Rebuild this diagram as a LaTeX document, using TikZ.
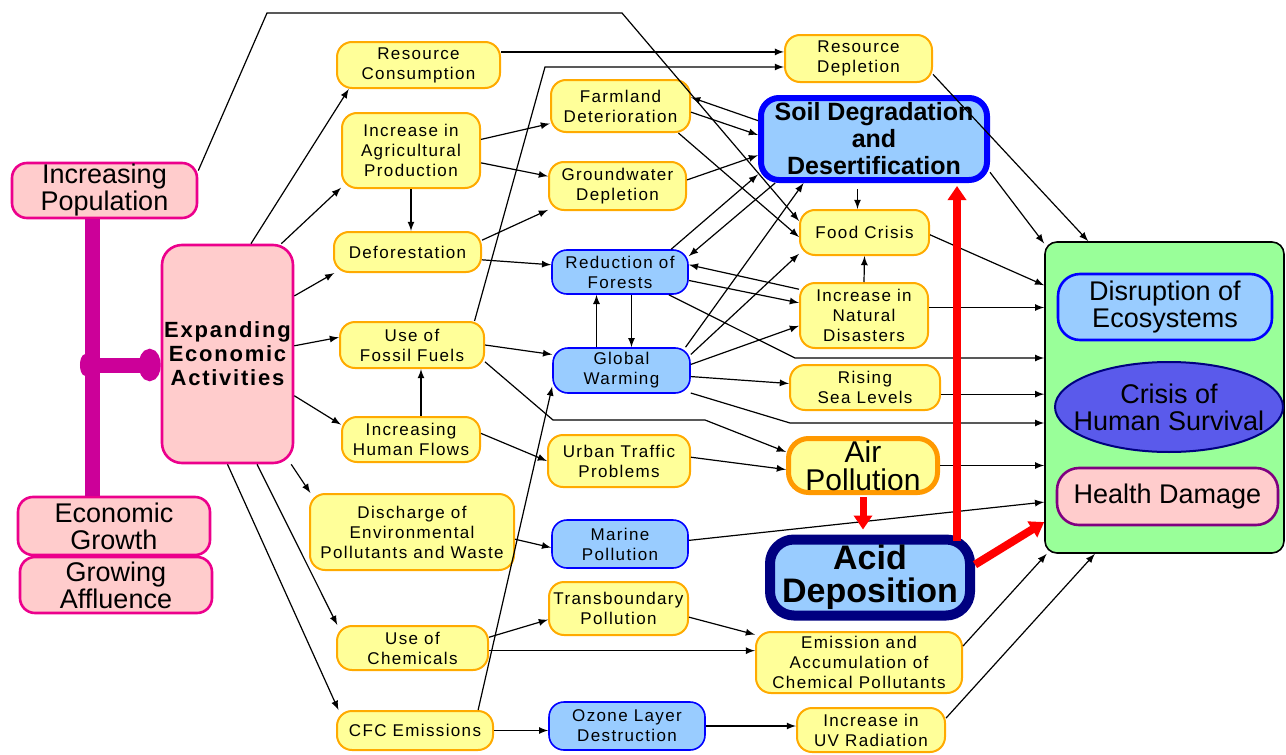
\documentclass[tikz,border=0pt]{standalone}
\usepackage{fontspec}
\setmainfont{Liberation Sans}
\newfontfamily\spaced[LetterSpace=8]{Liberation Sans}
\usepackage{tikz}
\usetikzlibrary{positioning,arrows,arrows.meta,calc,shapes.geometric}

\definecolor{paleyel}{RGB}{255,255,153}
\definecolor{edgeorange}{RGB}{255,170,0}
\definecolor{airorange}{RGB}{255,153,0}
\definecolor{paleblue}{RGB}{153,204,255}
\definecolor{palepink}{RGB}{255,204,204}
\definecolor{palegreen}{RGB}{153,255,153}
\definecolor{barmag}{RGB}{204,0,153}
\definecolor{deepnavy}{RGB}{0,0,128}
\definecolor{crisisblue}{RGB}{90,90,235}
\definecolor{healthpurple}{RGB}{128,0,128}

\newcommand{\smtxt}{\spaced\fontsize{8.5}{10}\selectfont}
\newcommand{\bgtxt}{\fontsize{13.5}{13.5}\selectfont}

\begin{document}
\begin{tikzpicture}[>=latex,x=0.5pt,y=-0.5pt,line width=0.6pt,
	box/.style={rectangle,rounded corners=7.5pt,align=center,inner sep=0pt,font=\smtxt},
	yel/.style={box,draw=edgeorange,fill=paleyel,line width=1pt},
	blu/.style={box,draw=blue,fill=paleblue,line width=0.8pt},
	pnk/.style={box,draw=magenta,fill=palepink,line width=1.3pt,font=\bgtxt},
	redarrow/.style={-{Triangle[length=7pt,width=9pt]},red,line width=4pt}]
	\useasboundingbox (0,0) rectangle (1286,755);

	% causes
	\node[pnk,minimum width=92.5pt,minimum height=27.5pt] (IncPop) at (104.5,190.5) {Increasing\\Population};
	\node[pnk,minimum width=96pt,minimum height=29pt] (EcoGrowth) at (114,526) {Economic\\Growth};
	\node[pnk,minimum width=96pt,minimum height=28pt] (Affluence) at (116,585) {Growing\\Affluence};
	\node[pnk,minimum width=65.5pt,minimum height=109pt,rounded corners=10pt,
		font=\spaced\bfseries\fontsize{11}{12}\selectfont] (Expanding) at (227.5,354) {Expanding\\Economic\\Activities};

	% activities
	\node[yel,minimum width=81.5pt,minimum height=23pt] (ResCons) at (418.5,65) {Resource\\Consumption};
	\node[yel,minimum width=69pt,minimum height=37.5pt] (IncAgri) at (411,150.5) {Increase in\\Agricultural\\Production};
	\node[yel,minimum width=73.5pt,minimum height=20pt] (Defor) at (407.5,252) {Deforestation};
	\node[yel,minimum width=72pt,minimum height=23pt] (Fossil) at (412,345) {Use of\\Fossil Fuels};
	\node[yel,minimum width=69pt,minimum height=22.5pt] (HumanFlows) at (411,439.5) {Increasing\\Human Flows};
	\node[yel,minimum width=102pt,minimum height=38pt] (Discharge) at (412,532) {Discharge of\\Environmental\\Pollutants and Waste};
	\node[yel,minimum width=75.5pt,minimum height=22pt] (Chemicals) at (412.5,648) {Use of\\Chemicals};
	\node[yel,minimum width=78pt,minimum height=19.5pt] (CFC) at (415,730.5) {CFC Emissions};

	% first effects
	\node[yel,minimum width=69.5pt,minimum height=26pt] (Farmland) at (620.5,106) {Farmland\\Deterioration};
	\node[yel,minimum width=68.5pt,minimum height=24pt] (Groundwater) at (617.5,186) {Groundwater\\Depletion};
	\node[blu,minimum width=68pt,minimum height=22pt] (Reduction) at (620,272) {Reduction of\\Forests};
	\node[blu,minimum width=68.5pt,minimum height=22.5pt] (GW) at (621.5,370.5) {Global\\Warming};
	\node[yel,minimum width=71pt,minimum height=26pt] (Urban) at (619,461) {Urban Traffic\\Problems};
	\node[blu,minimum width=68pt,minimum height=24pt] (Marine) at (620,544) {Marine\\Pollution};
	\node[yel,minimum width=69.5pt,minimum height=26.5pt] (Transb) at (618.5,608.5) {Transboundary\\Pollution};
	\node[blu,minimum width=78pt,minimum height=24pt] (Ozone) at (627,726) {Ozone Layer\\Destruction};

	% second effects
	\node[yel,minimum width=73.5pt,minimum height=23.5pt] (ResDepl) at (858.5,58.5) {Resource\\Depletion};
	\node[blu,minimum width=113pt,minimum height=41pt,line width=3pt,rounded corners=9pt,
		font=\bfseries\fontsize{12.5}{13.5}\selectfont] (Soil) at (874,139) {Soil Degradation\\and\\Desertification};
	\node[yel,minimum width=64.5pt,minimum height=22.5pt] (Food) at (864.5,232.5) {Food Crisis};
	\node[yel,minimum width=64pt,minimum height=32.5pt] (NatDis) at (864,315.5) {Increase in\\Natural\\Disasters};
	\node[yel,minimum width=75pt,minimum height=22.5pt] (Rising) at (865,387.5) {Rising\\Sea Levels};
	\node[yel,minimum width=74.5pt,minimum height=27pt,line width=2.5pt,draw=airorange,rounded corners=10pt,
		font=\fontsize{15}{14}\selectfont] (Air) at (863,465.5) {Air\\Pollution};
	\node[blu,minimum width=100pt,minimum height=38pt,line width=5pt,draw=deepnavy,rounded corners=12pt,
		font=\bfseries\fontsize{17}{16.5}\selectfont] (Acid) at (870,577.5) {Acid\\Deposition};
	\node[yel,minimum width=103pt,minimum height=30.5pt] (Emission) at (859,662.5) {Emission and\\Accumulation of\\Chemical Pollutants};
	\node[yel,minimum width=74pt,minimum height=22pt] (UV) at (871,730) {Increase in\\UV Radiation};

	% outcome
	\node[draw=black,fill=palegreen,rounded corners=6pt,minimum width=119.5pt,minimum height=155.5pt,line width=0.8pt] (Impact) at (1164.5,397.5) {};
	\node[box,draw=blue,fill=paleblue,line width=1.3pt,rounded corners=11pt,minimum width=107pt,minimum height=33pt,font=\bgtxt] (Disruption) at (1165,307) {Disruption of\\Ecosystems};
	\node[ellipse,draw=deepnavy,fill=crisisblue,line width=1pt,minimum width=114pt,minimum height=45pt,inner xsep=-8pt,inner ysep=0pt,align=center,font=\bgtxt] (Crisis) at (1169,407) {Crisis of\\Human Survival};
	\node[box,draw=healthpurple,fill=palepink,line width=1.3pt,rounded corners=11pt,minimum width=110.5pt,minimum height=28.5pt,font=\bgtxt] (Health) at (1167.5,496.5) {Health Damage};

	% population and growth
	\coordinate (trunk) at ($(IncPop.south)+(-12,0)$);
	\coordinate (fork) at (80,365);
	\draw[barmag,line width=7.5pt] (trunk) -- (trunk |- EcoGrowth.north);
	\draw[barmag,line width=7.5pt,{Circle[length=6pt,width=11pt]}-{Circle[length=11pt,width=16pt]}] (fork) -- (fork -| Expanding.west);
	\coordinate (popA) at (267,13);
	\coordinate (popB) at (622,13);
	\draw[->] (IncPop.12) -- (popA) -- (popB) -- (Food.170);

	% from Expanding
	\draw[->] (Expanding.78) -- (ResCons.199);
	\draw[->] (Expanding.64) -- (IncAgri.208);
	\draw[->] (Expanding.41) -- (Defor.196);
	\draw[->] (Expanding.7) -- (Fossil.174);
	\draw[->] (Expanding.-32) -- (HumanFlows.168);
	\draw[->] (Expanding.-60) -- (Discharge.159);
	\draw[->] (Expanding.-75) -- (Chemicals.163);
	\draw[->] (Expanding.-90) -- (CFC.165);

	% activities
	\coordinate (hfTop) at ($(HumanFlows.north)+(10,0)$);
	\coordinate (fuelBend) at (545,67);
	\coordinate (airA) at (553,420);
	\coordinate (airB) at (705,420);
	\draw[->] (IncAgri.south) -- (IncAgri.south |- Defor.north);
	\draw[->] (hfTop) -- (hfTop |- Fossil.south);
	\draw[->] (ResCons.9) -- (ResCons.9 -| ResDepl.west);
	\draw[->] (Fossil.21) -- (fuelBend) -- (fuelBend -| ResDepl.west);
	\draw[->] (CFC.18) -- (GW.193);
	\draw[->] (Fossil.-13) -- (airA) -- (airB) -- (Air.170);
	\draw[->] (Fossil.east) -- (GW.167);
	\draw[->] (IncAgri.9) -- (Farmland.194);
	\draw[->] (IncAgri.-10) -- (Groundwater.172);
	\draw[->] (Defor.9) -- (Groundwater.199);
	\draw[->] (Defor.-6) -- (Reduction.174);
	\draw[->] (HumanFlows.5) -- (Urban.west);
	\draw[->] (Discharge.-4) -- (Marine.183);
	\draw[->] (Chemicals.8) -- (Transb.189);
	\draw[->] (Chemicals.-2) -- (Chemicals.-2 -| Emission.west);
	\draw[->] (CFC.east) -- (CFC.east -| Ozone.west);

	% first to second effects
	\coordinate (gwUp) at ($(GW.north)+(-25,0)$);
	\coordinate (gwDn) at ($(GW.north)+(10,0)$);
	\coordinate (foodTop) at ($(Food.north)+(-7,0)$);
	\draw[->] (gwUp) -- (gwUp |- Reduction.south);
	\draw[->] (gwDn |- Reduction.south) -- (gwDn);
	\draw[->] (Farmland.-5) -- (Soil.178);
	\draw[->] (Soil.171) -- (Farmland.7);
	\draw[->] (Farmland.-25) -- (Food.184);
	\draw[->] (Groundwater.5) -- (Soil.188);
	\draw[->] (Reduction.24) -- (Soil.197);
	\draw[->] (Soil.204) -- (Reduction.13);
	\draw[->] (GW.20) -- (Soil.212);
	\draw[->] (GW.13) -- (Food.198);
	\draw[->] (GW.5) -- (NatDis.189);
	\draw[->] (Reduction.-7) -- (NatDis.169);
	\draw[->] (NatDis.158) -- (Reduction.6);
	\draw[->] (GW.-5) -- (Rising.177);
	\draw[->] (Urban.3) -- (Air.183);
	\draw[->] (Transb.-7) -- (Emission.165);
	\draw[->] (Ozone.east) -- (Ozone.east -| UV.west);
	\draw[->,shorten <=3pt] (foodTop |- Soil.south) -- (foodTop);
	\draw[->] (NatDis.north) -- (Food.south);

	% into outcome
	\coordinate (forestBend) at (795,358);
	\coordinate (warmBend) at (790,423);
	\draw[->] (ResDepl.-12) -- (Impact.116);
	\draw[->] (Soil.-16) -- (Impact.128);
	\draw[->] (Food.-2) -- (Impact.137);
	\draw[->] (NatDis.7) -- (NatDis.7 -| Impact.west);
	\draw[->] (Reduction.-25) -- (forestBend) -- (forestBend -| Impact.west);
	\draw[->] (Rising.-5) -- (Rising.-5 -| Impact.west);
	\draw[->] (GW.-18) -- (warmBend) -- (warmBend -| Impact.west);
	\draw[->] (Air.east) -- (Air.east -| Impact.west);
	\draw[->] (Marine.3) -- (Impact.221);
	\draw[->] (Emission.9) -- (Impact.233);
	\draw[->] (UV.9) -- (Impact.246);

	% acid deposition
	\coordinate (acidUp) at ($(Acid.north)+(87,6)$);
	\draw[redarrow,shorten >=1.5pt] (acidUp) -- (acidUp |- Soil.south);
	\draw[redarrow,line width=3.5pt,shorten <=1pt,shorten >=2.5pt] (Air.south) -- (Air.south |- Acid.north);
	\draw[redarrow] (Acid.7) -- (Impact.226);
\end{tikzpicture}
\end{document}
